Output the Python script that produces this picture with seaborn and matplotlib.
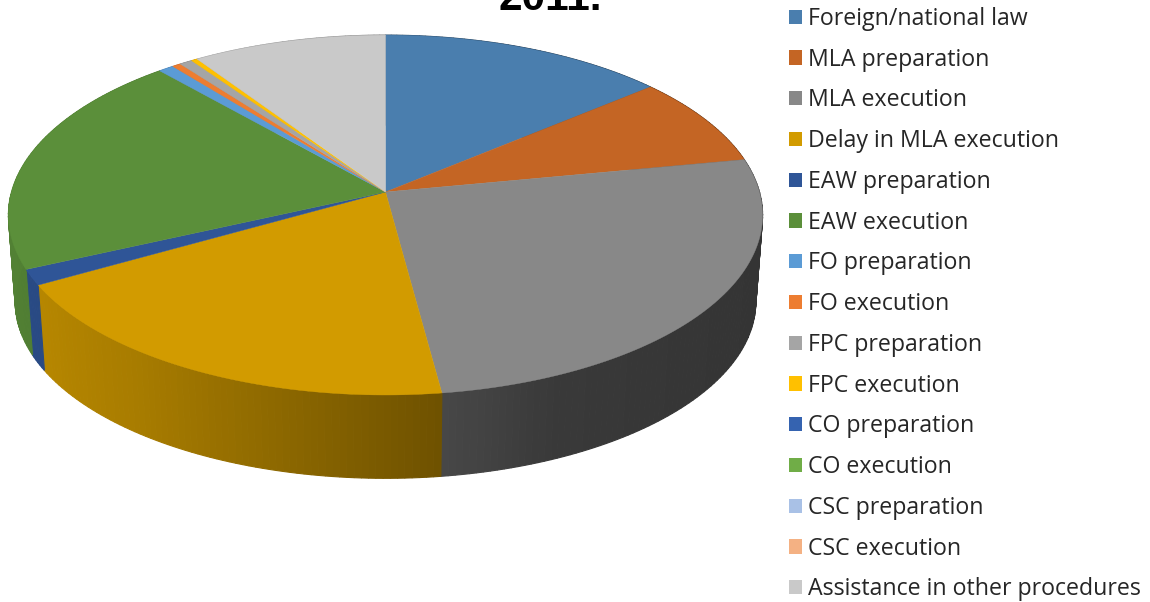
import numpy as np
import matplotlib
matplotlib.use("Agg")
import matplotlib.pyplot as plt
from matplotlib.patches import Patch
import seaborn as sns

categories = ["Foreign/national law", "MLA preparation", "MLA execution", "Delay in MLA execution",
              "EAW preparation", "EAW execution", "FO preparation", "FO execution", "FPC preparation",
              "FPC execution", "CO preparation", "CO execution", "CSC preparation", "CSC execution",
              "Assistance in other procedures"]
values = [13.9, 8.1, 25.9, 18.9, 1.4, 20.3, 0.75, 0.42, 0.63, 0.3, 0, 0, 0, 0, 9.4]
colors = ["#4A7EAE", "#C46524", "#888888", "#D29B00", "#2F5597", "#5B8F3A", "#5B9BD5", "#ED7D31",
          "#A5A5A5", "#FFC000", "#3563B0", "#70AD47", "#A9C1E6", "#F4B183", "#C9C9C9"]
title = "2011."

# projection of the unit disc onto the page (pixels)
CX, CY, A, B, K = 385.5, 192.0, 374.0, 177.0, 0.128
DEPTH, BOTTOM_SCALE = 87.0, 0.982
shade_x = [-1.0, -0.6, 0.15, 0.4, 1.0]
shade_f = [0.90, 0.80, 0.52, 0.42, 0.38]


def project(theta, r=1.0, scale=1.0, dy=0.0):
    x = r * np.sin(theta)
    y = r * np.cos(theta)
    w = 1 + K * y
    return CX + scale * A * x / w, CY + dy - scale * B * y / w


sns.set_theme(style="white")
plt.rcParams["font.family"] = ["Open Sans", "DejaVu Sans"]
fig = plt.figure(figsize=(11.5, 6.02), dpi=100)
ax = fig.add_axes([0, 0, 1, 1])
ax.set_xlim(0, 1150)
ax.set_ylim(602, 0)
ax.axis("off")

edges = np.cumsum([0] + values) / sum(values) * 2 * np.pi
for i, c in enumerate(colors):
    if values[i] <= 0:
        continue
    n = max(2, int((edges[i + 1] - edges[i]) / np.radians(1.0)) + 1)
    t = np.linspace(edges[i], edges[i + 1], n + 1)
    rgb = np.array(matplotlib.colors.to_rgb(c))
    for a0, a1 in zip(t[:-1], t[1:]):
        tx, ty = project(np.array([a0, a1]))
        bx, by = project(np.array([a1, a0]), scale=BOTTOM_SCALE, dy=DEPTH)
        f = np.interp(np.sin((a0 + a1) / 2), shade_x, shade_f)
        ax.fill(np.r_[tx, bx], np.r_[ty, by], color=rgb * f, lw=0.8, zorder=2)

for i, c in enumerate(colors):
    if values[i] <= 0:
        continue
    n = max(3, int((edges[i + 1] - edges[i]) / np.radians(1)) + 1)
    t = np.linspace(edges[i], edges[i + 1], n)
    x, y = project(t)
    ax.fill(np.r_[CX, x], np.r_[CY, y], color=c, lw=0.3, zorder=3)

ax.text(550.5, 10, title, ha="center", va="baseline", fontsize=30.5, fontweight="bold",
        family="Liberation Sans", color="black", clip_on=False)

handles = [Patch(facecolor=c, edgecolor="none") for c in colors]
F = 16.7
px = 72 / 100 / F  # one pixel in legend font units
ax.legend(handles, categories, loc="upper left", bbox_to_anchor=(789, 7), bbox_transform=ax.transData,
          frameon=False, fontsize=F, borderpad=0, borderaxespad=0,
          handlelength=13 * px, handleheight=13 * px, handletextpad=6 * px,
          labelspacing=0.722, labelcolor="#262626")
fig.savefig("out.png", dpi=100)
